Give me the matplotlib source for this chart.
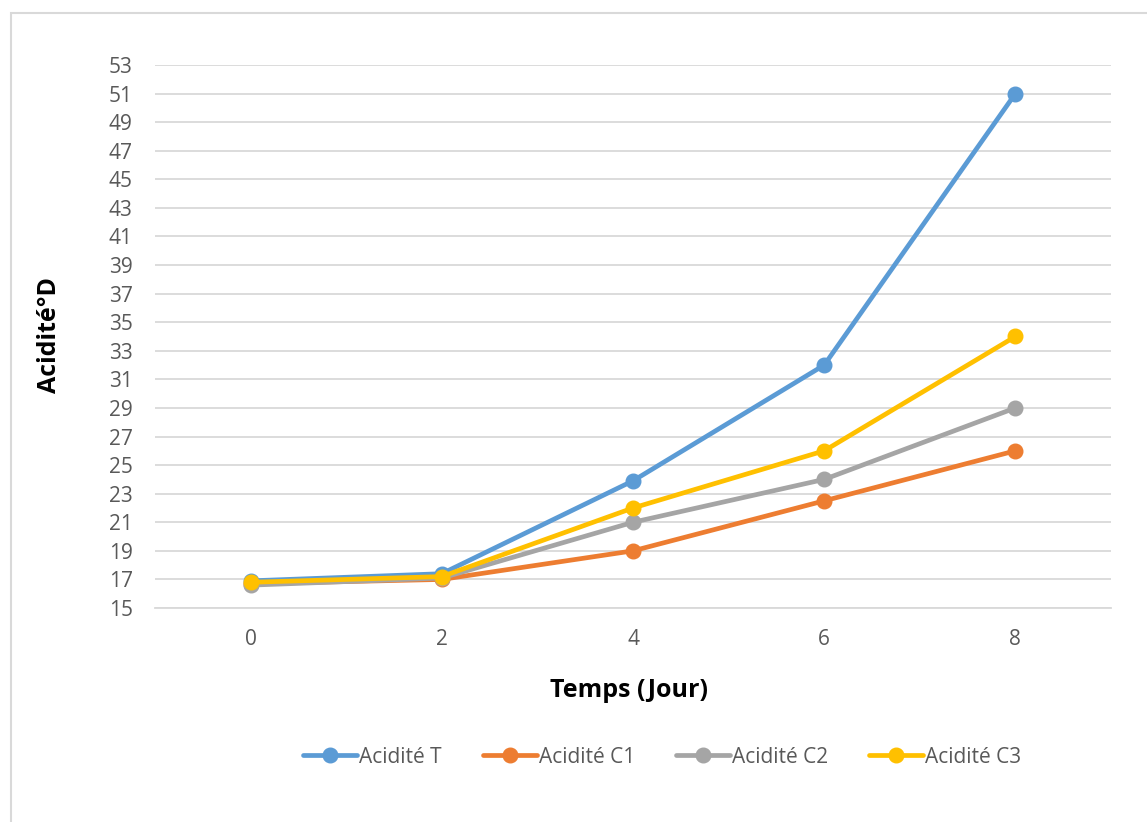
import matplotlib.pyplot as plt
from matplotlib.patches import Rectangle

plt.rcParams['font.family'] = ['Open Sans', 'DejaVu Sans']

jours = [0, 2, 4, 6, 8]
acid_t = [16.9, 17.4, 23.9, 32.0, 51.0]
acid_c1 = [16.7, 17.0, 19.0, 22.5, 26.0]
acid_c2 = [16.6, 17.1, 21.0, 24.0, 29.0]
acid_c3 = [16.8, 17.2, 22.0, 26.0, 34.0]
noms = ["Acidité T", "Acidité C1", "Acidité C2", "Acidité C3"]
couleurs = ["#5B9BD5", "#ED7D31", "#A5A5A5", "#FFC000"]
yticks = list(range(15, 54, 2))

fig = plt.figure(figsize=(11.47, 8.22), dpi=100)
fig.patches.append(Rectangle((11 / 1147, -0.1), 1.2, 1.1 - 13 / 822,
                             transform=fig.transFigure, fill=False,
                             edgecolor="#D9D9D9", linewidth=1.5))

ax = fig.add_axes([155 / 1147, 1 - 608 / 822, (1111 - 155) / 1147, (608 - 65) / 822])
pos = list(range(len(jours)))
for serie, nom, c in zip([acid_t, acid_c1, acid_c2, acid_c3], noms, couleurs):
    ax.plot(pos, serie, color=c, lw=3.4, marker="o", ms=10.5, label=nom,
            solid_capstyle="round")

ax.set_xlim(-0.5, len(jours) - 0.5)
ax.set_ylim(15, 53)
ax.set_xticks(pos)
ax.set_xticklabels([str(j) for j in jours])
ax.set_yticks(yticks)
ax.tick_params(length=0, labelsize=15, colors="#595959")
ax.tick_params(axis="y", pad=16)
ax.tick_params(axis="x", pad=15)
ax.grid(axis="y", color="#D9D9D9", lw=1.3)
ax.set_axisbelow(True)
for s in ["top", "right", "left"]:
    ax.spines[s].set_visible(False)
ax.spines["bottom"].set_color("#D9D9D9")
ax.spines["bottom"].set_linewidth(1.3)

fig.text(50 / 1147, 1 - 335 / 822, "Acidité°D", rotation=90, ha="center", va="center",
         fontsize=18, fontweight="bold")
fig.text(629 / 1147, 1 - 690 / 822, "Temps (Jour)", ha="center", va="center",
         fontsize=18, fontweight="bold")

fig.legend(loc="center", bbox_to_anchor=(662 / 1147, 1 - 757 / 822), ncol=4,
           frameon=False, fontsize=15, handlelength=2.6, handletextpad=0.1,
           columnspacing=1.95, labelcolor="#595959")

fig.savefig("out.png", dpi=100)
